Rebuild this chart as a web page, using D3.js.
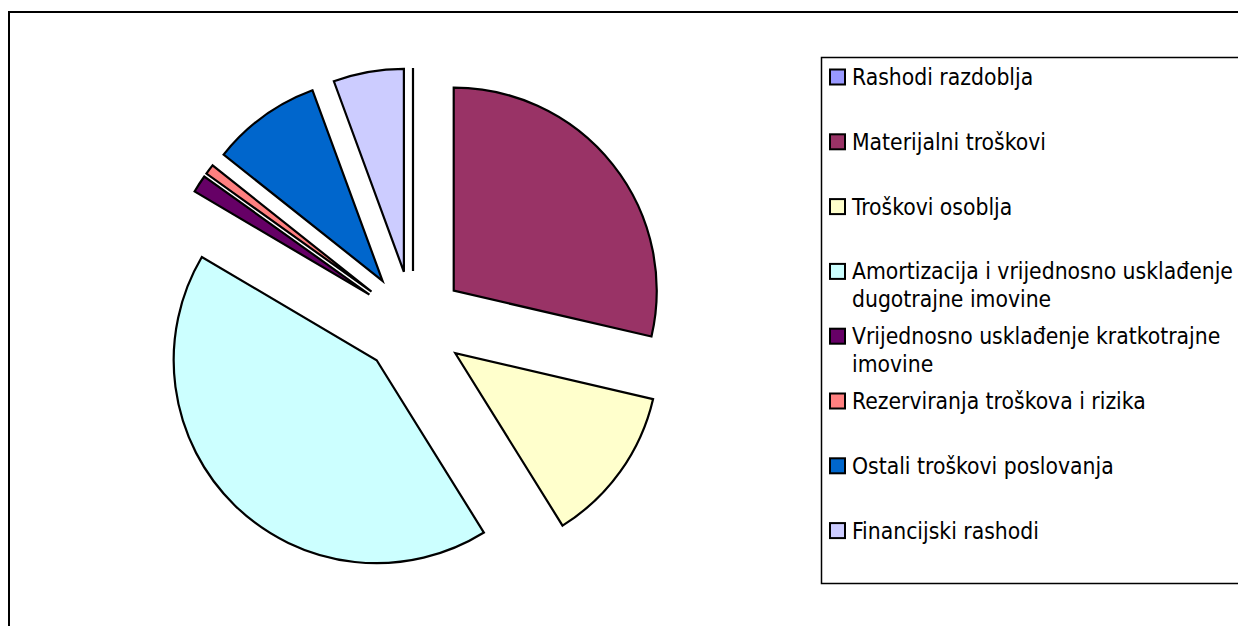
<!DOCTYPE html>
<html>
<head>
<meta charset="utf-8">
<script src="https://cdn.jsdelivr.net/npm/d3@7"></script>
<style>
	body { margin: 0; background: #fff; }
	svg { display: block; }
	.legend-text { font-family: "DejaVu Sans Condensed", "DejaVu Sans", sans-serif; font-size: 22.7px; fill: #000; }
</style>
</head>
<body>
<svg id="chart" width="1238" height="626"></svg>
<script>
// categories in drawing order, starting at 12 o'clock, clockwise
var categories = [
	"Rashodi razdoblja",
	"Materijalni troškovi",
	"Troškovi osoblja",
	"Amortizacija i vrijednosno usklađenje dugotrajne imovine",
	"Vrijednosno usklađenje kratkotrajne imovine",
	"Rezerviranja troškova i rizika",
	"Ostali troškovi poslovanja",
	"Financijski rashodi"
];
// share of total, in percent
var values = [0, 28.6, 12.5, 42.3, 1.4, 0.8, 8.7, 5.6];
var colors = ["#9999FF", "#993366", "#FFFFCC", "#CCFFFF", "#660066", "#FF8080", "#0066CC", "#CCCCFF"];

var svg = d3.select("#chart");

// outer chart frame, right and bottom edges fall outside the window
svg.append("rect")
	.attr("x", 9).attr("y", 12)
	.attr("width", 1300).attr("height", 700)
	.attr("fill", "none")
	.attr("stroke", "#000")
	.attr("stroke-width", 2);

// pie
var cx = 413, cy = 323, radius = 203, explode = 52;

var pie = d3.pie().sort(null).value(function(d) { return d; });
var arc = d3.arc().innerRadius(0).outerRadius(radius);
var slices = pie(values);

var pieGroup = svg.append("g").attr("transform", "translate(" + cx + "," + cy + ")");

pieGroup.selectAll("path")
	.data(slices)
	.enter()
	.append("path")
	.attr("d", arc)
	.attr("fill", function(d, i) { return colors[i]; })
	.attr("stroke", "#000")
	.attr("stroke-width", 2.2)
	.attr("stroke-linejoin", "miter")
	.attr("transform", function(d) {
		// each slice pulled out along its middle angle
		var mid = (d.startAngle + d.endAngle) / 2;
		return "translate(" + (explode * Math.sin(mid)) + "," + (-explode * Math.cos(mid)) + ")";
	});

// legend
var legendX = 821, legendTop = 57, legendBottom = 583;
svg.append("rect")
	.attr("x", legendX + 0.5).attr("y", legendTop + 0.5)
	.attr("width", 600).attr("height", legendBottom - legendTop)
	.attr("fill", "#fff")
	.attr("stroke", "#000")
	.attr("stroke-width", 1.5);

var rowStart = 77, rowStep = 64.8, lineHeight = 28, maxTextWidth = 386;

var legend = svg.append("g");
categories.forEach(function(name, i) {
	var y = rowStart + rowStep * i;
	legend.append("rect")
		.attr("x", 830).attr("y", y - 7.5)
		.attr("width", 15).attr("height", 15)
		.attr("fill", colors[i])
		.attr("stroke", "#000")
		.attr("stroke-width", 2);

	var text = legend.append("text")
		.attr("class", "legend-text")
		.attr("x", 852)
		.attr("y", y + 8);

	// wrap words into lines that fit the legend
	var words = name.split(" "), line = [], lineNo = 0;
	var tspan = text.append("tspan").attr("x", 852).attr("y", y + 8);
	words.forEach(function(word) {
		line.push(word);
		tspan.text(line.join(" "));
		if (tspan.node().getComputedTextLength() > maxTextWidth && line.length > 1) {
			line.pop();
			tspan.text(line.join(" "));
			line = [word];
			lineNo++;
			tspan = text.append("tspan")
				.attr("x", 852)
				.attr("y", y + 8 + lineNo * lineHeight)
				.text(word);
		}
	});
});
</script>
</body>
</html>
